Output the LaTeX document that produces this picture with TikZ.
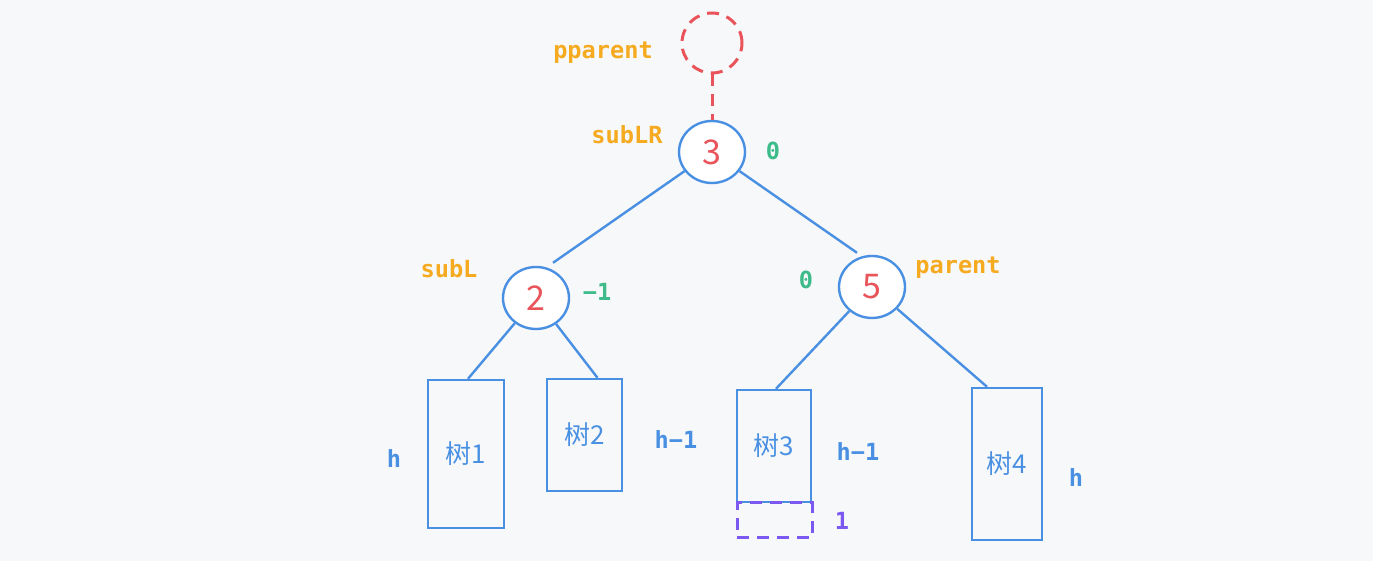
\documentclass[tikz,border=0pt]{standalone}
\usepackage{fontspec}
\setmonofont{DejaVu Sans Mono}
\newfontfamily\cjk{Noto Sans CJK SC}
\usetikzlibrary{shapes.geometric,calc}
\definecolor{bgc}{HTML}{F7F8FA}
\definecolor{bl}{HTML}{4A90E2}
\definecolor{rd}{HTML}{E9545A}
\definecolor{og}{HTML}{F5AA20}
\definecolor{gn}{HTML}{3DBB8A}
\definecolor{pu}{HTML}{7B59F0}
\tikzset{
  tnode/.style={ellipse,draw=bl,fill=white,line width=1.2pt,minimum width=33pt,minimum height=31pt,inner sep=0pt,text=rd,font=\cjk\fontsize{17}{17}\selectfont},
  ghost/.style={circle,draw=rd,line width=1.5pt,dash pattern=on 6pt off 4pt,minimum size=30pt,inner sep=0pt},
  tree/.style={rectangle,draw=bl,line width=1.2pt,inner sep=0pt,text=bl,font=\cjk\fontsize{13}{13}\selectfont},
  edge/.style={draw=bl,line width=1.2pt},
  olab/.style={text=og,font=\ttfamily\bfseries\fontsize{11.8}{12}\selectfont,inner sep=0pt},
  glab/.style={text=gn,font=\ttfamily\bfseries\fontsize{11.8}{12}\selectfont,inner sep=0pt},
  blab/.style={text=bl,font=\ttfamily\bfseries\fontsize{11.8}{12}\selectfont,inner sep=0pt},
  plab/.style={text=pu,font=\ttfamily\bfseries\fontsize{11.8}{12}\selectfont,inner sep=0pt},
}
\begin{document}
\begin{tikzpicture}[x=0.5pt,y=-0.5pt]
\useasboundingbox (0,0) rectangle (1373,561);
\fill[bgc] (0,0) rectangle (1373,561);
% nodes
\node[ghost] (pp) at (712,43) {};
\node[tnode] (n3) at (712,152) {3};
\node[tnode] (n2) at (536,298) {2};
\node[tnode] (n5) at (872,287) {5};
\node[tree,minimum width=38pt,minimum height=74pt] (t1) at (466,454) {树1};
\node[tree,minimum width=37.5pt,minimum height=56pt] (t2) at (584.5,435) {树2};
\node[tree,minimum width=37pt,minimum height=56pt] (t3) at (774,446) {树3};
\node[tree,minimum width=35pt,minimum height=76pt] (t4) at (1007,464) {树4};
\node[rectangle,draw=pu,line width=1.5pt,dash pattern=on 6pt off 4pt,minimum width=37.5pt,minimum height=17.5pt,inner sep=0pt] (ex) at (774.5,520.5) {};
% connectors
\draw[draw=rd,line width=1.5pt,dash pattern=on 6pt off 4pt] (pp.south) -- (n3.north);
\draw[edge] (n3) -- ($(n2.north)+(17,-3)$);
\draw[edge] (n3) -- ($(n5.north)+(-15,-2)$);
\draw[edge] (n2) -- ($(t1.north)+(2,0)$);
\draw[edge] (n2) -- ($(t2.north)+(13,0)$);
\draw[edge] (n5) -- ($(t3.north)+(2,0)$);
\draw[edge] (n5) -- ($(t4.north)+(-20,0)$);
% labels
\node[olab] (lpp) at (603,53) {pparent};
\node[olab] (llr) at (627,135) {subLR};
\node[glab] (b3) at (773,151) {0};
\node[olab] (ll) at (449,269) {subL};
\node[glab] (b2) at (597,292) {−1};
\node[glab] (b5) at (806,280) {0};
\node[olab] (lp) at (958,268) {parent};
\node[blab] (h1) at (394,459) {h};
\node[blab] (h2) at (676,440) {h−1};
\node[blab] (h3) at (858,452) {h−1};
\node[blab] (h4) at (1076,478) {h};
\node[plab] (one) at (842,521) {1};
\end{tikzpicture}
\end{document}
